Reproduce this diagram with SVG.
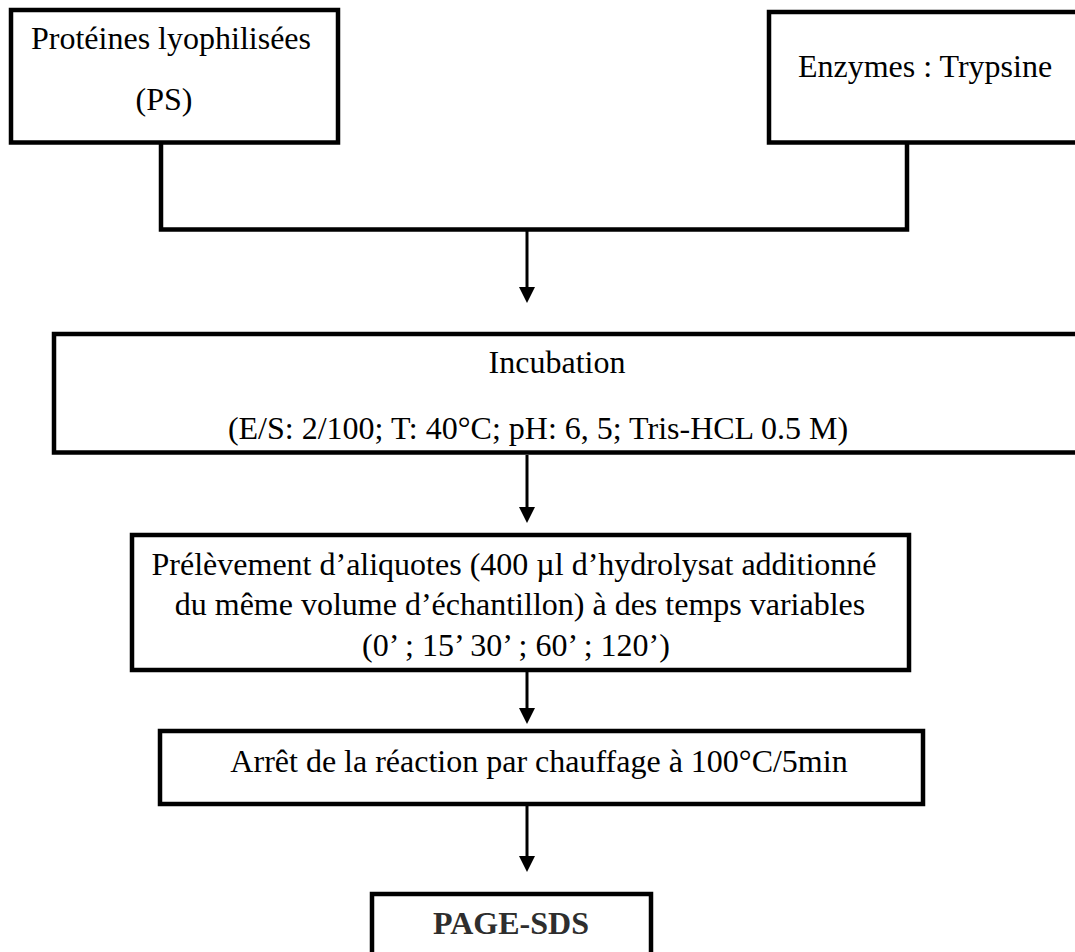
<svg xmlns="http://www.w3.org/2000/svg" width="1075" height="952" viewBox="0 0 1075 952">
<style>
  .box { fill: #ffffff; stroke: #000000; stroke-width: 4.5; }
  .t { font-family: "Liberation Serif", "Times New Roman", serif; font-size: 32px; fill: #000000; text-anchor: middle; }
  .b { font-weight: bold; fill: #2e2e2e; }
  .conn { fill: none; stroke: #000000; stroke-width: 4.5; stroke-linejoin: miter; stroke-linecap: square; }
  .arr { fill: none; stroke: #000000; stroke-width: 3; marker-end: url(#ah); }
</style>
<defs>
  <marker id="ah" markerUnits="userSpaceOnUse" markerWidth="16" markerHeight="16" refX="6" refY="8" orient="auto">
    <path d="M0,0 L16,8 L0,16 Z" fill="#000000"/>
  </marker>
</defs>
<rect width="1075" height="952" fill="#ffffff"/>

<g id="connectors">
  <polyline class="conn" points="161,143 161,229.5 907,229.5 907,143"/>
  <line class="arr" x1="527" y1="231" x2="527" y2="293"/>
  <line class="arr" x1="527" y1="455" x2="527" y2="513"/>
  <line class="arr" x1="527" y1="672" x2="527" y2="714"/>
  <line class="arr" x1="527" y1="806" x2="527" y2="862"/>
</g>

<g id="node-proteines">
  <rect class="box" x="11" y="10" width="327" height="132.5"/>
  <text class="t" x="171" y="49">Protéines lyophilisées</text>
  <text class="t" x="164" y="110">(PS)</text>
</g>

<g id="node-enzymes">
  <rect class="box" x="769" y="12" width="330" height="130.5"/>
  <text class="t" x="925" y="77">Enzymes : Trypsine</text>
</g>

<g id="node-incubation">
  <rect class="box" x="54" y="334" width="1040" height="118.5"/>
  <text class="t" x="557" y="373">Incubation</text>
  <text class="t" x="538" y="439">(E/S: 2/100; T: 40°C; pH: 6, 5; Tris-HCL 0.5 M)</text>
</g>

<g id="node-prelevement">
  <rect class="box" x="132" y="535" width="777" height="135"/>
  <text class="t" x="514" y="575">Prélèvement d’aliquotes (400 µl d’hydrolysat additionné</text>
  <text class="t" x="520" y="615">du même volume d’échantillon) à des temps variables</text>
  <text class="t" x="516" y="656">(0’ ; 15’ 30’ ; 60’ ; 120’)</text>
</g>

<g id="node-arret">
  <rect class="box" x="160" y="731" width="763" height="73"/>
  <text class="t" x="539" y="772">Arrêt de la réaction par chauffage à 100°C/5min</text>
</g>

<g id="node-page-sds">
  <rect class="box" x="372" y="894" width="279" height="70"/>
  <text class="t b" x="511" y="934">PAGE-SDS</text>
</g>
</svg>
